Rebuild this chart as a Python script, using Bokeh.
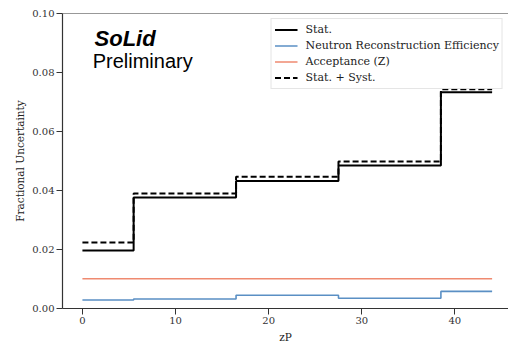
from bokeh.plotting import figure
from bokeh.models import Span, Label, Legend, LegendItem, NumeralTickFormatter, FixedTicker
from bokeh.embed import file_html
from bokeh.resources import INLINE

# bin edges in zP
edges = [0, 5.5, 16.5, 27.5, 38.5, 44]
stat = [0.0197, 0.0376, 0.0432, 0.0485, 0.0733]
neutron_eff = [0.0029, 0.0032, 0.0045, 0.0035, 0.0058]
acceptance = [0.0101, 0.0101, 0.0101, 0.0101, 0.0101]
stat_syst = [0.0224, 0.0390, 0.0447, 0.0498, 0.0743]
x_ticks = [0, 10, 20, 30, 40]
y_ticks = [0.00, 0.02, 0.04, 0.06, 0.08, 0.10]

def stepy(vals):
    return list(vals) + [vals[-1]]

SERIF = "DejaVu Serif"

p = figure(width=508, height=345, output_backend="svg", toolbar_location=None,
           x_range=(-2.14, 45.76), y_range=(0, 0.1),
           min_border_left=62, min_border_right=0, min_border_top=13, min_border_bottom=0)
p.outline_line_color = None
p.xgrid.visible = False
p.ygrid.visible = False
p.background_fill_color = "white"
p.border_fill_color = "white"

r_stat = p.step(edges, stepy(stat), mode="after", line_color="black", line_width=2)
r_neu = p.step(edges, stepy(neutron_eff), mode="after", line_color="#5a8fc4", line_width=1.6)
r_acc = p.step(edges, stepy(acceptance), mode="after", line_color="#ef8a70", line_width=1.6)
r_ss = p.step(edges, stepy(stat_syst), mode="after", line_color="black", line_width=2, line_dash="6 3")

p.add_layout(Span(location=0.1, dimension="width", line_color="#333333", line_width=1.2))

for ax in (p.xaxis[0], p.yaxis[0]):
    ax.axis_line_color = "#333333"
    ax.axis_line_width = 1.2
    ax.major_tick_line_color = "#333333"
    ax.major_tick_out = 6
    ax.major_tick_in = 0
    ax.minor_tick_line_color = None
    ax.major_label_text_font = SERIF
    ax.major_label_text_font_size = "10px"
    ax.major_label_text_color = "#333333"
    ax.axis_label_text_font = SERIF
    ax.axis_label_text_font_size = "10.5px"
    ax.axis_label_text_font_style = "normal"
    ax.axis_label_text_color = "#222222"
    ax.major_label_standoff = 2

p.xaxis.ticker = FixedTicker(ticks=x_ticks)
p.yaxis.ticker = FixedTicker(ticks=y_ticks)
p.yaxis.formatter = NumeralTickFormatter(format="0.00")
p.xaxis.axis_label = "zP"
p.yaxis.axis_label = "Fractional Uncertainty"
p.xaxis.axis_label_standoff = 4
p.yaxis.axis_label_standoff = 3

legend = Legend(items=[
    LegendItem(label="Stat.", renderers=[r_stat]),
    LegendItem(label="Neutron Reconstruction Efficiency", renderers=[r_neu]),
    LegendItem(label="Acceptance (Z)", renderers=[r_acc]),
    LegendItem(label="Stat. + Syst.", renderers=[r_ss]),
], location="top_right")
legend.label_text_font = SERIF
legend.label_text_font_size = "11px"
legend.label_text_color = "#222222"
legend.label_height = 15
legend.glyph_height = 15
legend.glyph_width = 23
legend.spacing = 1
legend.padding = 3
legend.margin = 5
legend.label_standoff = 8
legend.border_line_color = "#cccccc"
legend.border_line_width = 1
legend.background_fill_alpha = 0.85
p.add_layout(legend)

p.add_layout(Label(x=1.3, y=0.0874, text="SoLid", text_font="Liberation Sans",
                   text_font_size="22px", text_font_style="bold italic", text_color="black"))
p.add_layout(Label(x=1.1, y=0.0802, text="Preliminary", text_font="Liberation Sans",
                   text_font_size="20px", text_color="black"))

open("out.html", "w").write(file_html(p, INLINE))
